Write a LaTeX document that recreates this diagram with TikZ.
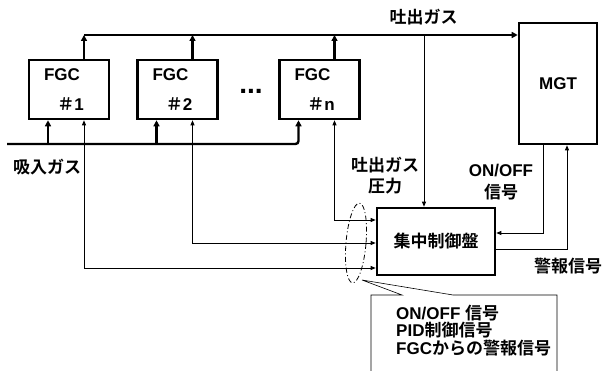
\documentclass[tikz,border=0pt]{standalone}
\usepackage{fontspec}
\setmainfont{Liberation Sans}
\newfontfamily\jp{Noto Sans CJK JP}[UprightFont=* Bold, BoldFont=* Bold]
\usetikzlibrary{arrows.meta,calc}
\begin{document}
\begin{tikzpicture}[x=1pt,y=-1pt,
  box/.style={draw, line width=2.6pt, inner sep=0pt},
  lbl/.style={font=\bfseries\fontsize{17}{21}\selectfont, inner sep=0pt},
  bus/.style={line width=2.4pt},
  sig/.style={line width=0.8pt},
  busarrow/.style={bus, -{Triangle[length=6pt,width=6pt]}},
  sigarrow/.style={sig, -{Triangle[length=5pt,width=4pt]}},
  sigboth/.style={sig, {Triangle[length=5pt,width=4pt]}-{Triangle[length=5pt,width=4pt]}},
  callout/.style={line width=0.6pt}
]
\useasboundingbox (0,0) rectangle (604,371);

% boxes
\node[box, minimum width=80pt, minimum height=59pt] (f1) at (69,89.5) {};
\node[box, minimum width=80pt, minimum height=59pt] (f2) at (177.5,89.5) {};
\node[box, minimum width=80pt, minimum height=59pt] (fn) at (319.5,89.5) {};
\node[box, minimum width=78pt, minimum height=121pt, font=\bfseries\fontsize{17}{21}\selectfont] (mgt) at (558,83.5) {MGT};
\node[box, minimum width=118pt, minimum height=67pt, font=\bfseries\fontsize{17}{21}\selectfont] (ctrl) at (436,241.5) {\jp 集中制御盤};

% FGC labels
\foreach \n/\t in {f1/1, f2/2, fn/n} {
  \node[lbl] (\n-a) at ($(\n)+(-7,-14.5)$) {FGC};
  \node[lbl] (\n-b) at ($(\n)+(1.5,14.5)$) {{\jp ＃}\t};
  \path ($(\n.north)+(15,0)$) coordinate (\n-out)
        ($(\n.south)+(15,0)$) coordinate (\n-sig)
        ($(\n.south)+(-21,0)$) coordinate (\n-in);
}
\node[lbl, font=\bfseries\fontsize{28}{28}\selectfont, anchor=base] (dots) at (251,93.5) {...};

% discharge gas bus
\coordinate (tb) at (0,35);
\draw[busarrow] (f1-out |- tb) -- (mgt.west |- tb);
\foreach \n in {f1,f2,fn} \draw[busarrow] (\n-out) -- (\n-out |- tb);

% suction gas bus
\coordinate (bs) at (7,144);
\draw[bus, rounded corners=3pt, -{Triangle[length=6pt,width=6pt]}] (bs) -| (fn-in);
\foreach \n in {f1,f2} \draw[busarrow] (\n-in |- bs) -- (\n-in);

% signal lines FGC <-> control panel
\coordinate (y1) at (0,268);
\coordinate (y2) at (0,243);
\coordinate (yn) at (0,220);
\draw[sigboth] (f1-sig) |- (ctrl.west |- y1);
\draw[sigboth] (f2-sig) |- (ctrl.west |- y2);
\draw[sigboth] (fn-sig) |- (ctrl.west |- yn);

% discharge pressure
\coordinate (pg) at (424,35);
\draw[sigarrow] (pg) -- (pg |- ctrl.north);

% MGT <-> control panel
\path ($(mgt.south)+(-15,0)$) coordinate (m1) ($(mgt.south)+(9,0)$) coordinate (m2);
\coordinate (y3) at (0,233);
\coordinate (y4) at (0,249);
\draw[sigarrow] (m1) |- (ctrl.east |- y3);
\draw[sigarrow] (ctrl.east |- y4) -| (m2);

% dash-dot ellipse and callout
\draw[sig, dash pattern=on 5pt off 2.5pt on 1pt off 2.5pt, rotate around={-5:(356,243)}] (356,243) ellipse [x radius=10, y radius=40];
\coordinate (cp) at (362,280);
\draw[callout] (371,373) -- (371,295) -- (402,295) -- (cp) -- (453,295) -- (557,295) -- (557,373);

% labels
\node[lbl] (lab-dis) at (423.5,17) {\jp 吐出ガス};
\node[lbl] (lab-suc) at (47,167) {\jp 吸入ガス};
\node[lbl, align=center] (lab-pr) at (385,176) {\jp 吐出ガス\\\jp 圧力};
\node[lbl, align=center, font=\bfseries\fontsize{17}{22}\selectfont] (lab-onoff) at (501,182) {ON/OFF\\{\jp 信号}};
\node[lbl] (lab-alarm) at (568,266) {\jp 警報信号};
\node[lbl, align=left, anchor=west, font=\bfseries\fontsize{17}{17.5}\selectfont] (note) at (396,330.5)
  {ON/OFF {\jp 信号}\\PID{\jp 制御信号}\\FGC{\jp からの警報信号}};
\end{tikzpicture}
\end{document}
